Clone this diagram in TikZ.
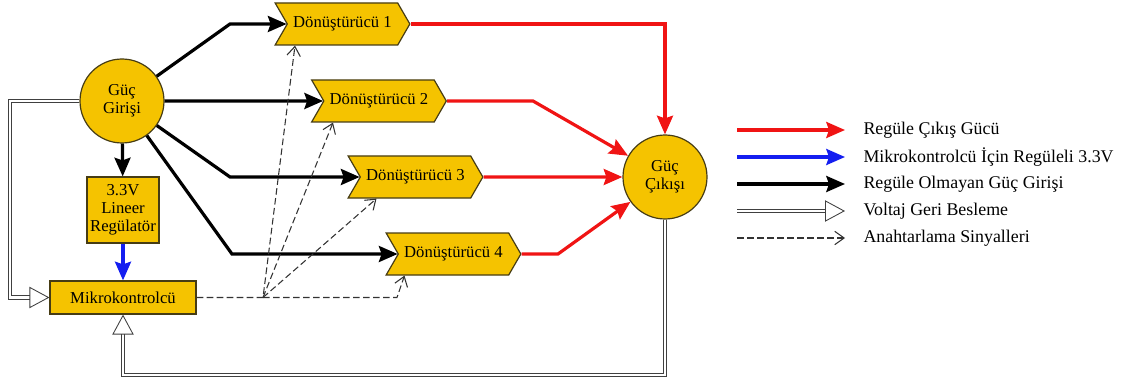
\documentclass[tikz,border=0pt]{standalone}
\usepackage{fontspec}
\setmainfont{Liberation Serif}
\usetikzlibrary{shapes.symbols,arrows.meta,calc}

\definecolor{blockfill}{RGB}{245,195,0}
\definecolor{blockline}{RGB}{70,60,20}
\definecolor{outred}{RGB}{240,20,20}
\definecolor{mcublue}{RGB}{20,30,240}

\tikzset{every picture/.style={line width=0.75pt}}
\tikzset{
  blk/.style={draw=blockline, fill=blockfill, line width=0.9pt, font=\fontsize{12.5}{13.5}\selectfont, align=center, inner sep=1pt},
  io/.style={blk, circle, minimum size=63pt},
  conv/.style={blk, signal, signal to=east, signal from=west, signal pointer angle=120, minimum width=101pt, minimum height=31.5pt},
  regbox/.style={blk, rectangle},
  unreg/.style={line width=2.4pt, -{Stealth[length=14pt,width=12pt,inset=2pt]}},
  regout/.style={unreg, draw=outred},
  mcupow/.style={unreg, draw=mcublue},
  fb/.style={draw=black!75, line width=0.65pt, double=white, double distance=1.9pt, -{Triangle[open,length=15pt,width=16pt]}},
  sig/.style={draw=black!80, line width=0.8pt, dash pattern=on 5pt off 2.5pt, -{Straight Barb[length=7pt,width=10pt]}},
  lgtext/.style={anchor=west, inner sep=0pt, font=\fontsize{13.4}{14}\selectfont}
}

\begin{document}
\begin{tikzpicture}[x=0.75pt,y=0.75pt,yscale=-1]

\useasboundingbox (0,0) rectangle (1122,385);

% blocks
\draw (122,101) node [io] (gin) {Güç\\Girişi};
\draw (665,177) node [io] (gout) {Güç\\Çıkışı};
\draw (342.5,24) node [conv] (d1) {Dönüştürücü 1};
\draw (379,101) node [conv] (d2) {Dönüştürücü 2};
\draw (415.5,177) node [conv] (d3) {Dönüştürücü 3};
\draw (453.5,254) node [conv] (d4) {Dönüştürücü 4};
\draw (123,210) node [regbox, minimum width=54pt, minimum height=49.5pt] (reg) {3.3V\\Lineer\\Regülatör};
\draw (123,297.5) node [regbox, minimum width=109.5pt, minimum height=24.75pt] (mcu) {Mikrokontrolcü};
\coordinate (fan) at (263,297.5);

% unregulated input
\draw [unreg] (gin) -- (230,24) -- (d1);
\draw [unreg] (gin) -- (d2);
\draw [unreg] (gin) -- (230,177) -- (d3);
\draw [unreg] (gin) -- (232,254) -- (d4);
\draw [unreg] (gin) -- (reg);
\draw [mcupow] (reg) -- (mcu);

% regulated output
\draw [regout] (d1) -| (gout);
\draw [regout] (d2) -- (533,101) -- (gout);
\draw [regout] (d3) -- (gout);
\draw [regout] (d4) -- (558,254) -- (gout);

% feedback
\draw [fb] (gin) -- (10,101) |- (mcu);
\draw [fb] (gout) -- (665,375) -| (mcu);

% switching signals
\draw [sig] (mcu) -- (fan) -- ($(d1.south)+(-47.5,0)$);
\draw [sig] (fan) -- ($(d2.south)+(-46,0)$);
\draw [sig] (fan) -- ($(d3.south)+(-39,0)$);
\draw [sig] (fan) -- (397,297.5) -- ($(d4.south)+(-49,0)$);

% legend
\draw (863,130) node [lgtext] (lg1) {Regüle Çıkış Gücü};
\draw (863,157) node [lgtext] (lg2) {Mikrokontrolcü İçin Regüleli 3.3V};
\draw (863,184) node [lgtext] (lg3) {Regüle Olmayan Güç Girişi};
\draw (863,211) node [lgtext] (lg4) {Voltaj Geri Besleme};
\draw (863,238) node [lgtext] (lg5) {Anahtarlama Sinyalleri};
\draw [regout] ($(lg1.west)+(-126,0)$) -- ($(lg1.west)+(-18,0)$);
\draw [mcupow] ($(lg2.west)+(-126,0)$) -- ($(lg2.west)+(-18,0)$);
\draw [unreg] ($(lg3.west)+(-126,0)$) -- ($(lg3.west)+(-18,0)$);
\draw [fb] ($(lg4.west)+(-126,0)$) -- ($(lg4.west)+(-18,0)$);
\draw [sig] ($(lg5.west)+(-126,0)$) -- ($(lg5.west)+(-18,0)$);

\end{tikzpicture}
\end{document}
